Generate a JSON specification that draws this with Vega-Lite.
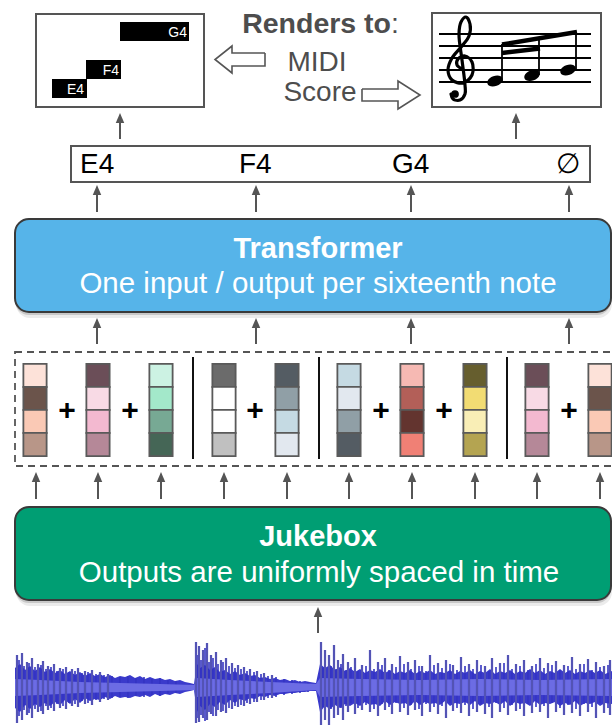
{
"$schema":"https://vega.github.io/schema/vega-lite/v6.json",
"width":612,"height":725,"autosize":"none","padding":0,"background":"#ffffff",
"config":{"view":{"stroke":null},"axis":{"disable":true},"legend":{"disable":true}},
"encoding":{
 "x":{"field":"x","type":"quantitative","scale":{"domain":[0,612],"nice":false,"zero":false}},
 "y":{"field":"y","type":"quantitative","scale":{"domain":[0,725],"nice":false,"zero":false,"reverse":true}}
},
"datasets":{
 "panels":[{"id":"Transformer","x":15,"x2":611,"y":219,"y2":312},{"id":"Jukebox","x":15,"x2":611,"y":507,"y2":600}],
 "panelText":[{"text":"Transformer","x":318,"y":258,"kind":"title"},{"text":"One input / output per sixteenth note","x":318,"y":293,"kind":"sub"},{"text":"Jukebox","x":318,"y":546,"kind":"title"},{"text":"Outputs are uniformly spaced in time","x":319,"y":582,"kind":"sub"}],
 "frames":[{"name":"midi","x":36,"x2":204,"y":14,"y2":107},{"name":"score","x":432,"x2":601,"y":13,"y2":107},{"name":"tokens","x":71,"x2":590,"y":146,"y2":182}],
 "dashed":[{"x":15,"x2":640,"y":352,"y2":466}],
 "cells":[
  {"x":35,"y":375.5,"shade":"peach1"},{"x":35,"y":398.5,"shade":"brown1"},{"x":35,"y":421.5,"shade":"peach2"},{"x":35,"y":444.5,"shade":"taupe1"},
  {"x":98,"y":375.5,"shade":"mauve1"},{"x":98,"y":398.5,"shade":"pink1"},{"x":98,"y":421.5,"shade":"pink2"},{"x":98,"y":444.5,"shade":"mauve2"},
  {"x":161,"y":375.5,"shade":"mint1"},{"x":161,"y":398.5,"shade":"mint2"},{"x":161,"y":421.5,"shade":"sage"},{"x":161,"y":444.5,"shade":"green1"},
  {"x":224,"y":375.5,"shade":"gray1"},{"x":224,"y":398.5,"shade":"white"},{"x":224,"y":421.5,"shade":"white"},{"x":224,"y":444.5,"shade":"gray2"},
  {"x":287,"y":375.5,"shade":"slate1"},{"x":287,"y":398.5,"shade":"slate2"},{"x":287,"y":421.5,"shade":"ice1"},{"x":287,"y":444.5,"shade":"ice2"},
  {"x":349,"y":375.5,"shade":"ice1"},{"x":349,"y":398.5,"shade":"ice2"},{"x":349,"y":421.5,"shade":"slate2"},{"x":349,"y":444.5,"shade":"slate1"},
  {"x":412,"y":375.5,"shade":"salmon1"},{"x":412,"y":398.5,"shade":"red1"},{"x":412,"y":421.5,"shade":"brown2"},{"x":412,"y":444.5,"shade":"salmon2"},
  {"x":475,"y":375.5,"shade":"olive1"},{"x":475,"y":398.5,"shade":"yellow1"},{"x":475,"y":421.5,"shade":"yellow2"},{"x":475,"y":444.5,"shade":"olive2"},
  {"x":537,"y":375.5,"shade":"mauve1"},{"x":537,"y":398.5,"shade":"pink1"},{"x":537,"y":421.5,"shade":"pink2"},{"x":537,"y":444.5,"shade":"mauve2"},
  {"x":600,"y":375.5,"shade":"peach1"},{"x":600,"y":398.5,"shade":"brown1"},{"x":600,"y":421.5,"shade":"peach2"},{"x":600,"y":444.5,"shade":"taupe1"}
 ],
 "seps":[{"x":193,"y":357,"y2":459},{"x":319,"y":357,"y2":459},{"x":507,"y":357,"y2":459}],
 "plus":[{"x":67,"y":411},{"x":130,"y":411},{"x":255,"y":411},{"x":381,"y":411},{"x":444,"y":411},{"x":569,"y":411}],
 "arrows":[
  {"x":120,"y":113,"y2":139},{"x":516,"y":113,"y2":139},
  {"x":97,"y":185,"y2":212},{"x":256,"y":185,"y2":212},{"x":411,"y":185,"y2":212},{"x":569,"y":185,"y2":212},
  {"x":97,"y":318,"y2":344},{"x":256,"y":318,"y2":344},{"x":411,"y":318,"y2":344},{"x":569,"y":318,"y2":344},
  {"x":36,"y":472,"y2":499},{"x":98,"y":472,"y2":499},{"x":161,"y":472,"y2":499},{"x":224,"y":472,"y2":499},{"x":287,"y":472,"y2":499},
  {"x":349,"y":472,"y2":499},{"x":412,"y":472,"y2":499},{"x":475,"y":472,"y2":499},{"x":537,"y":472,"y2":499},{"x":600,"y":472,"y2":499},
  {"x":318,"y":607,"y2":633}
 ],
 "hollow":[
  {"id":"left","o":0,"x":265,"y":53},{"id":"left","o":1,"x":232,"y":53},{"id":"left","o":2,"x":232,"y":46},{"id":"left","o":3,"x":215,"y":59.5},{"id":"left","o":4,"x":232,"y":73},{"id":"left","o":5,"x":232,"y":66},{"id":"left","o":6,"x":265,"y":66},{"id":"left","o":7,"x":265,"y":53},
  {"id":"right","o":0,"x":362,"y":89},{"id":"right","o":1,"x":398,"y":89},{"id":"right","o":2,"x":398,"y":81},{"id":"right","o":3,"x":420,"y":95},{"id":"right","o":4,"x":398,"y":109},{"id":"right","o":5,"x":398,"y":101},{"id":"right","o":6,"x":362,"y":101},{"id":"right","o":7,"x":362,"y":89}
 ],
 "topText":[{"text":"Renders to","x":391,"y":33,"kind":"bold"},{"text":":","x":391,"y":33,"kind":"colon"},{"text":"MIDI","x":317,"y":71,"kind":"plain"},{"text":"Score","x":320,"y":101,"kind":"plain"}],
 "tokens":[{"text":"E4","x":80,"y":173},{"text":"F4","x":239,"y":173},{"text":"G4","x":392,"y":173},{"text":"∅","x":556,"y":173}],
 "midiBars":[{"note":"G4","x":120,"x2":189,"y":22,"y2":41},{"note":"F4","x":86,"x2":121,"y":60,"y2":79},{"note":"E4","x":52,"x2":87,"y":79,"y2":98}],
 "midiLabels":[{"text":"G4","x":187,"y":37},{"text":"F4","x":119,"y":75},{"text":"E4","x":84,"y":94}],
 "staff":[{"x":439,"x2":591,"y":34},{"x":439,"x2":591,"y":46},{"x":439,"x2":591,"y":58},{"x":439,"x2":591,"y":70},{"x":439,"x2":591,"y":82}],
 "clef":[
  {"o":0,"x":462,"y":69},{"o":1,"x":457,"y":65},{"o":2,"x":458,"y":59},{"o":3,"x":465,"y":56},{"o":4,"x":472,"y":62},{"o":5,"x":472,"y":75},{"o":6,"x":463,"y":83},{"o":7,"x":452,"y":80},{"o":8,"x":448,"y":70},{"o":9,"x":452,"y":58},{"o":10,"x":462,"y":46},{"o":11,"x":469,"y":36},{"o":12,"x":470,"y":24},{"o":13,"x":466,"y":17},{"o":14,"x":461,"y":22},{"o":15,"x":459,"y":34},{"o":16,"x":462,"y":60},{"o":17,"x":465,"y":85},{"o":18,"x":465,"y":94},{"o":19,"x":460,"y":100},{"o":20,"x":453,"y":99},{"o":21,"x":451,"y":94}
 ],
 "clefBall":[{"x":455,"y":94}],
 "stems":[{"x":502,"y":81,"y2":44},{"x":539,"y":75,"y2":38},{"x":576,"y":69,"y2":32}],
 "beams":[{"x":502,"y":44.5,"x2":577,"y2":32},{"x":502,"y":53,"x2":540,"y2":48.5}],
 "heads":[{"x":495,"y":81},{"x":532,"y":75.5},{"x":568,"y":70}],
 "wave":[
  {"x":15,"t":668,"b":708},{"x":20,"t":664,"b":712},{"x":25,"t":670,"b":705},{"x":30,"t":666,"b":709},{"x":35,"t":671,"b":704},{"x":40,"t":667,"b":707},{"x":45,"t":672,"b":703},{"x":50,"t":669,"b":706},{"x":55,"t":673,"b":702},{"x":60,"t":670,"b":705},{"x":65,"t":674,"b":700},{"x":70,"t":671,"b":704},{"x":75,"t":675,"b":699},{"x":80,"t":672,"b":703},{"x":85,"t":676,"b":698},{"x":90,"t":673,"b":701},{"x":95,"t":676,"b":699},{"x":100,"t":674,"b":700},{"x":105,"t":677,"b":697},{"x":110,"t":675,"b":699},{"x":115,"t":678,"b":696},{"x":120,"t":676,"b":698},{"x":125,"t":677,"b":697},{"x":130,"t":675,"b":698},{"x":135,"t":678,"b":696},{"x":140,"t":676,"b":697},{"x":145,"t":679,"b":695},{"x":150,"t":677,"b":697},{"x":155,"t":679,"b":694},{"x":160,"t":678,"b":696},{"x":165,"t":680,"b":694},{"x":170,"t":679,"b":695},{"x":175,"t":681,"b":693},{"x":180,"t":680,"b":694},{"x":185,"t":682,"b":692},{"x":190,"t":683,"b":691},{"x":194,"t":684,"b":690},
  {"x":197,"t":664,"b":712},{"x":200,"t":668,"b":706},{"x":205,"t":665,"b":710},{"x":210,"t":670,"b":704},{"x":215,"t":667,"b":707},{"x":220,"t":672,"b":702},{"x":225,"t":670,"b":705},{"x":230,"t":674,"b":700},{"x":235,"t":671,"b":703},{"x":240,"t":675,"b":699},{"x":245,"t":673,"b":701},{"x":250,"t":676,"b":698},{"x":255,"t":675,"b":699},{"x":260,"t":678,"b":696},{"x":265,"t":677,"b":697},{"x":270,"t":679,"b":695},{"x":275,"t":678,"b":696},{"x":280,"t":680,"b":694},{"x":285,"t":679,"b":694},{"x":290,"t":681,"b":693},{"x":295,"t":680,"b":693},{"x":300,"t":682,"b":692},{"x":305,"t":681,"b":692},{"x":310,"t":682,"b":691},{"x":316,"t":683,"b":691},
  {"x":320,"t":664,"b":712},{"x":325,"t":668,"b":706},{"x":330,"t":665,"b":709},{"x":335,"t":670,"b":705},{"x":340,"t":667,"b":708},{"x":345,"t":671,"b":704},{"x":350,"t":668,"b":706},{"x":355,"t":672,"b":703},{"x":360,"t":669,"b":706},{"x":365,"t":673,"b":702},{"x":370,"t":670,"b":705},{"x":375,"t":672,"b":704},{"x":380,"t":669,"b":706},{"x":385,"t":673,"b":701},{"x":390,"t":670,"b":705},{"x":395,"t":674,"b":702},{"x":400,"t":671,"b":704},{"x":405,"t":673,"b":703},{"x":410,"t":670,"b":706},{"x":415,"t":674,"b":701},{"x":420,"t":671,"b":705},{"x":425,"t":673,"b":702},{"x":430,"t":670,"b":704},{"x":435,"t":674,"b":703},{"x":440,"t":672,"b":705},{"x":445,"t":673,"b":701},{"x":450,"t":670,"b":706},{"x":455,"t":674,"b":703},{"x":460,"t":671,"b":704},{"x":465,"t":673,"b":702},{"x":470,"t":670,"b":705},{"x":475,"t":674,"b":701},{"x":480,"t":671,"b":706},{"x":485,"t":673,"b":703},{"x":490,"t":669,"b":704},{"x":495,"t":674,"b":702},{"x":500,"t":671,"b":705},{"x":505,"t":673,"b":701},{"x":510,"t":670,"b":706},{"x":515,"t":674,"b":702},{"x":520,"t":671,"b":704},{"x":525,"t":673,"b":703},{"x":530,"t":669,"b":706},{"x":535,"t":673,"b":701},{"x":540,"t":670,"b":705},{"x":545,"t":674,"b":703},{"x":550,"t":671,"b":704},{"x":555,"t":673,"b":702},{"x":560,"t":669,"b":706},{"x":565,"t":673,"b":703},{"x":570,"t":670,"b":705},{"x":575,"t":674,"b":701},{"x":580,"t":671,"b":706},{"x":585,"t":673,"b":703},{"x":590,"t":670,"b":704},{"x":595,"t":673,"b":702},{"x":600,"t":670,"b":706},{"x":605,"t":674,"b":703},{"x":612,"t":671,"b":704}
 ],
 "noise":[
  {"x":19,"t":660,"b":716},{"x":24,"t":666,"b":710},{"x":29,"t":663,"b":713},{"x":35,"t":667,"b":709},{"x":41,"t":665,"b":711},{"x":46,"t":669,"b":706},{"x":51,"t":667,"b":708},{"x":57,"t":671,"b":704},{"x":63,"t":669,"b":706},{"x":69,"t":672,"b":703},{"x":75,"t":671,"b":704},{"x":82,"t":673,"b":701},{"x":88,"t":672,"b":703},{"x":96,"t":674,"b":700},{"x":104,"t":675,"b":699},{"x":112,"t":676,"b":698},{"x":120,"t":677,"b":697},{"x":128,"t":676,"b":698},{"x":136,"t":678,"b":696},{"x":144,"t":677,"b":697},{"x":152,"t":679,"b":695},{"x":160,"t":678,"b":696},{"x":168,"t":680,"b":694},{"x":176,"t":681,"b":693},
  {"x":198,"t":655,"b":718},{"x":201,"t":660,"b":715},{"x":205,"t":648,"b":721},{"x":209,"t":662,"b":712},{"x":213,"t":658,"b":716},{"x":218,"t":664,"b":710},{"x":223,"t":662,"b":711},{"x":229,"t":666,"b":708},{"x":235,"t":668,"b":706},{"x":241,"t":669,"b":705},{"x":247,"t":671,"b":703},{"x":254,"t":672,"b":702},{"x":261,"t":674,"b":700},{"x":268,"t":676,"b":698},{"x":276,"t":677,"b":697},{"x":284,"t":679,"b":695},{"x":292,"t":680,"b":694},{"x":300,"t":681,"b":693},{"x":308,"t":682,"b":692},
  {"x":323,"t":668,"b":707},{"x":331,"t":666,"b":709},{"x":336,"t":669,"b":704},{"x":341,"t":664,"b":708},{"x":346,"t":670,"b":706},{"x":351,"t":667,"b":703},{"x":358,"t":671,"b":708},{"x":366,"t":666,"b":705},{"x":374,"t":669,"b":709},{"x":382,"t":665,"b":704},{"x":389,"t":670,"b":707},{"x":396,"t":667,"b":703},{"x":404,"t":664,"b":708},{"x":411,"t":669,"b":705},{"x":419,"t":666,"b":709},{"x":426,"t":671,"b":704},{"x":434,"t":665,"b":707},{"x":442,"t":668,"b":706},{"x":450,"t":664,"b":703},{"x":457,"t":670,"b":708},{"x":465,"t":666,"b":705},{"x":473,"t":669,"b":709},{"x":481,"t":665,"b":704},{"x":489,"t":671,"b":707},{"x":496,"t":667,"b":703},{"x":504,"t":663,"b":708},{"x":512,"t":669,"b":705},{"x":520,"t":666,"b":709},{"x":528,"t":670,"b":704},{"x":536,"t":664,"b":707},{"x":544,"t":668,"b":706},{"x":552,"t":665,"b":703},{"x":560,"t":670,"b":708},{"x":568,"t":666,"b":705},{"x":576,"t":669,"b":709},{"x":584,"t":664,"b":704},{"x":592,"t":670,"b":707},{"x":600,"t":667,"b":703},{"x":608,"t":665,"b":708}
 ],
 "core":[
  {"x":15,"t":679,"b":696},{"x":40,"t":680,"b":695},{"x":80,"t":682,"b":693},{"x":120,"t":683,"b":692},{"x":160,"t":684,"b":691},{"x":194,"t":685,"b":690},
  {"x":197,"t":678,"b":697},{"x":230,"t":680,"b":695},{"x":270,"t":682,"b":693},{"x":316,"t":684,"b":690},
  {"x":320,"t":678,"b":697},{"x":360,"t":679,"b":696},{"x":420,"t":680,"b":695},{"x":480,"t":679,"b":696},{"x":540,"t":680,"b":695},{"x":612,"t":679,"b":696}
 ],
 "spikes":[
  {"x":17,"t":655,"b":723},{"x":22,"t":653,"b":720},{"x":27,"t":662,"b":715},{"x":32,"t":658,"b":718},{"x":38,"t":664,"b":712},{"x":43,"t":661,"b":714},{"x":48,"t":666,"b":710},{"x":54,"t":664,"b":711},{"x":60,"t":668,"b":708},{"x":66,"t":667,"b":709},{"x":72,"t":669,"b":706},{"x":78,"t":668,"b":707},{"x":85,"t":671,"b":704},{"x":92,"t":670,"b":705},{"x":100,"t":672,"b":702},{"x":108,"t":674,"b":700},
  {"x":196,"t":642,"b":723},{"x":199,"t":646,"b":722},{"x":203,"t":650,"b":718},{"x":207,"t":643,"b":720},{"x":211,"t":655,"b":714},{"x":216,"t":652,"b":716},{"x":221,"t":660,"b":712},{"x":226,"t":658,"b":713},{"x":232,"t":663,"b":709},{"x":238,"t":665,"b":707},{"x":244,"t":667,"b":706},{"x":250,"t":669,"b":704},{"x":257,"t":671,"b":702},{"x":264,"t":673,"b":700},{"x":272,"t":675,"b":698},
  {"x":321,"t":642,"b":725},{"x":325,"t":650,"b":720},{"x":329,"t":655,"b":725},{"x":334,"t":645,"b":718},{"x":338,"t":660,"b":715},{"x":343,"t":654,"b":720},{"x":348,"t":662,"b":712},{"x":355,"t":658,"b":714},{"x":362,"t":665,"b":710},{"x":370,"t":650,"b":712},{"x":378,"t":662,"b":716},{"x":385,"t":658,"b":710},{"x":392,"t":664,"b":714},{"x":400,"t":656,"b":712},{"x":408,"t":662,"b":715},{"x":415,"t":660,"b":710},{"x":422,"t":666,"b":716},{"x":430,"t":655,"b":712},{"x":438,"t":663,"b":714},{"x":446,"t":660,"b":718},{"x":453,"t":665,"b":711},{"x":461,"t":657,"b":713},{"x":469,"t":664,"b":716},{"x":477,"t":660,"b":712},{"x":485,"t":666,"b":714},{"x":492,"t":658,"b":718},{"x":500,"t":663,"b":712},{"x":508,"t":655,"b":715},{"x":516,"t":664,"b":711},{"x":524,"t":660,"b":716},{"x":532,"t":666,"b":713},{"x":540,"t":658,"b":712},{"x":548,"t":663,"b":718},{"x":556,"t":661,"b":712},{"x":564,"t":665,"b":715},{"x":572,"t":657,"b":713},{"x":580,"t":664,"b":716},{"x":588,"t":659,"b":712},{"x":596,"t":662,"b":718},{"x":604,"t":666,"b":713},{"x":610,"t":660,"b":715}
 ]
},
"layer":[
 {"data":{"name":"panels"},"mark":{"type":"rect","cornerRadius":14,"fill":"#000000","fillOpacity":0.08,"xOffset":1,"x2Offset":1,"yOffset":6,"y2Offset":6},"encoding":{"x2":{"field":"x2"},"y2":{"field":"y2"}}},
 {"data":{"name":"panels"},"mark":{"type":"rect","cornerRadius":14,"fill":"#000000","fillOpacity":0.15,"xOffset":0,"x2Offset":0,"yOffset":3,"y2Offset":3},"encoding":{"x2":{"field":"x2"},"y2":{"field":"y2"}}},
 {"data":{"name":"panels"},"transform":[{"filter":"datum.id === 'Transformer'"}],"mark":{"type":"rect","cornerRadius":14,"fill":"#56B4E9","stroke":"#3a3a3a","strokeWidth":2},"encoding":{"x2":{"field":"x2"},"y2":{"field":"y2"}}},
 {"data":{"name":"panels"},"transform":[{"filter":"datum.id === 'Jukebox'"}],"mark":{"type":"rect","cornerRadius":14,"fill":"#009E73","stroke":"#3a3a3a","strokeWidth":2},"encoding":{"x2":{"field":"x2"},"y2":{"field":"y2"}}},
 {"data":{"name":"panelText"},"transform":[{"filter":"datum.kind === 'title'"}],"mark":{"type":"text","font":"Liberation Sans","fontSize":29,"fontWeight":"bold","fill":"#ffffff","align":"center","baseline":"alphabetic"},"encoding":{"text":{"field":"text"}}},
 {"data":{"name":"panelText"},"transform":[{"filter":"datum.kind === 'sub'"}],"mark":{"type":"text","font":"Liberation Sans","fontSize":29.5,"fill":"#ffffff","align":"center","baseline":"alphabetic"},"encoding":{"text":{"field":"text"}}},
 {"data":{"name":"frames"},"mark":{"type":"rect","fill":"#ffffff","stroke":"#555555","strokeWidth":2},"encoding":{"x2":{"field":"x2"},"y2":{"field":"y2"}}},
 {"data":{"name":"dashed"},"mark":{"type":"rect","filled":false,"stroke":"#555555","strokeWidth":1.8,"strokeDash":[7,5]},"encoding":{"x2":{"field":"x2"},"y2":{"field":"y2"}}},
 {"data":{"name":"cells"},"mark":{"type":"point","shape":"square","size":540,"filled":true,"opacity":1,"stroke":"#5a5a5a","strokeWidth":1.8},
  "encoding":{"fill":{"field":"shade","type":"nominal","legend":null,"scale":{
   "domain":["peach1","brown1","peach2","taupe1","mauve1","pink1","pink2","mauve2","mint1","mint2","sage","green1","gray1","white","gray2","slate1","slate2","ice1","ice2","salmon1","red1","brown2","salmon2","olive1","yellow1","yellow2","olive2"],
   "range":["#FDE2D9","#6B544B","#FAC9B5","#B89688","#6B4E58","#F8DAE5","#F3B9D0","#B58898","#CCF2E3","#A3E8CA","#77A994","#456656","#6B6B6B","#FFFFFF","#C0C0C0","#545C63","#909FA6","#C5DAE3","#E2E8EF","#F6B9B3","#B35F58","#63342F","#F08075","#665E2E","#F2DC73","#F9EEB6","#B4A451"]}}}},
 {"data":{"name":"seps"},"mark":{"type":"rule","stroke":"#111111","strokeWidth":2},"encoding":{"y2":{"field":"y2"}}},
 {"data":{"name":"plus"},"mark":{"type":"text","text":"+","font":"Liberation Sans","fontSize":30,"fontWeight":"bold","fill":"#000000","align":"center","baseline":"middle"}},
 {"data":{"name":"arrows"},"mark":{"type":"rule","stroke":"#555555","strokeWidth":2,"yOffset":6},"encoding":{"y2":{"field":"y2"}}},
 {"data":{"name":"arrows"},"mark":{"type":"point","shape":"M0,-1L0.85,1L-0.85,1Z","size":100,"filled":true,"opacity":1,"fill":"#555555","strokeWidth":0,"yOffset":5}},
 {"data":{"name":"hollow"},"mark":{"type":"line","stroke":"#555555","strokeWidth":1.6,"strokeJoin":"miter"},"encoding":{"detail":{"field":"id"},"order":{"field":"o","type":"quantitative"}}},
 {"data":{"name":"topText"},"transform":[{"filter":"datum.kind === 'bold'"}],"mark":{"type":"text","font":"Liberation Sans","fontSize":28.5,"fontWeight":"bold","fill":"#4d4d4d","align":"right","baseline":"alphabetic"},"encoding":{"text":{"field":"text"}}},
 {"data":{"name":"topText"},"transform":[{"filter":"datum.kind === 'colon'"}],"mark":{"type":"text","font":"Liberation Sans","fontSize":28.5,"fill":"#4d4d4d","align":"left","baseline":"alphabetic"},"encoding":{"text":{"field":"text"}}},
 {"data":{"name":"topText"},"transform":[{"filter":"datum.kind === 'plain'"}],"mark":{"type":"text","font":"Liberation Sans","fontSize":28,"fill":"#4d4d4d","align":"center","baseline":"alphabetic"},"encoding":{"text":{"field":"text"}}},
 {"data":{"name":"tokens"},"mark":{"type":"text","font":"Liberation Sans","fontSize":28,"fill":"#000000","align":"left","baseline":"alphabetic"},"encoding":{"text":{"field":"text"}}},
 {"data":{"name":"midiBars"},"mark":{"type":"rect","fill":"#000000"},"encoding":{"x2":{"field":"x2"},"y2":{"field":"y2"}}},
 {"data":{"name":"midiLabels"},"mark":{"type":"text","font":"Liberation Sans","fontSize":14,"fill":"#ffffff","align":"right","baseline":"alphabetic"},"encoding":{"text":{"field":"text"}}},
 {"data":{"name":"staff"},"mark":{"type":"rule","stroke":"#000000","strokeWidth":1.8},"encoding":{"x2":{"field":"x2"}}},
 {"data":{"name":"clef"},"mark":{"type":"line","stroke":"#000000","strokeWidth":3.2,"interpolate":"catmull-rom","strokeCap":"round"},"encoding":{"order":{"field":"o","type":"quantitative"}}},
 {"data":{"name":"clefBall"},"mark":{"type":"point","shape":"circle","size":60,"filled":true,"opacity":1,"fill":"#000000"}},
 {"data":{"name":"stems"},"mark":{"type":"rule","stroke":"#000000","strokeWidth":1.8},"encoding":{"y2":{"field":"y2"}}},
 {"data":{"name":"beams"},"mark":{"type":"rule","stroke":"#000000","strokeWidth":4.5,"strokeCap":"butt"},"encoding":{"x2":{"field":"x2"},"y2":{"field":"y2"}}},
 {"data":{"name":"heads"},"mark":{"type":"point","shape":"M-0.94,0.34A1,0.62,-20,1,1,0.94,-0.34A1,0.62,-20,1,1,-0.94,0.34Z","size":256,"filled":true,"opacity":1,"fill":"#000000","strokeWidth":0}},
 {"data":{"name":"wave"},"mark":{"type":"area","fill":"#3a3acb","opacity":1},"encoding":{"y":{"field":"t","type":"quantitative","scale":{"domain":[0,725],"nice":false,"zero":false,"reverse":true}},"y2":{"field":"b"}}},
 {"data":{"name":"noise"},"mark":{"type":"rule","stroke":"#3434c2","strokeWidth":1.6},"encoding":{"y":{"field":"t","type":"quantitative","scale":{"domain":[0,725],"nice":false,"zero":false,"reverse":true}},"y2":{"field":"b"}}},
 {"data":{"name":"core"},"mark":{"type":"area","fill":"#6c6ce4","opacity":1},"encoding":{"y":{"field":"t","type":"quantitative","scale":{"domain":[0,725],"nice":false,"zero":false,"reverse":true}},"y2":{"field":"b"}}},
 {"data":{"name":"spikes"},"mark":{"type":"rule","stroke":"#3232bd","strokeWidth":2.2},"encoding":{"y":{"field":"t","type":"quantitative","scale":{"domain":[0,725],"nice":false,"zero":false,"reverse":true}},"y2":{"field":"b"}}},
 {"data":{"name":"spikes"},"mark":{"type":"rule","stroke":"#8585a8","strokeWidth":0.8},"encoding":{"y":{"field":"t","type":"quantitative","scale":{"domain":[0,725],"nice":false,"zero":false,"reverse":true}},"y2":{"field":"b"}}}
]
}
